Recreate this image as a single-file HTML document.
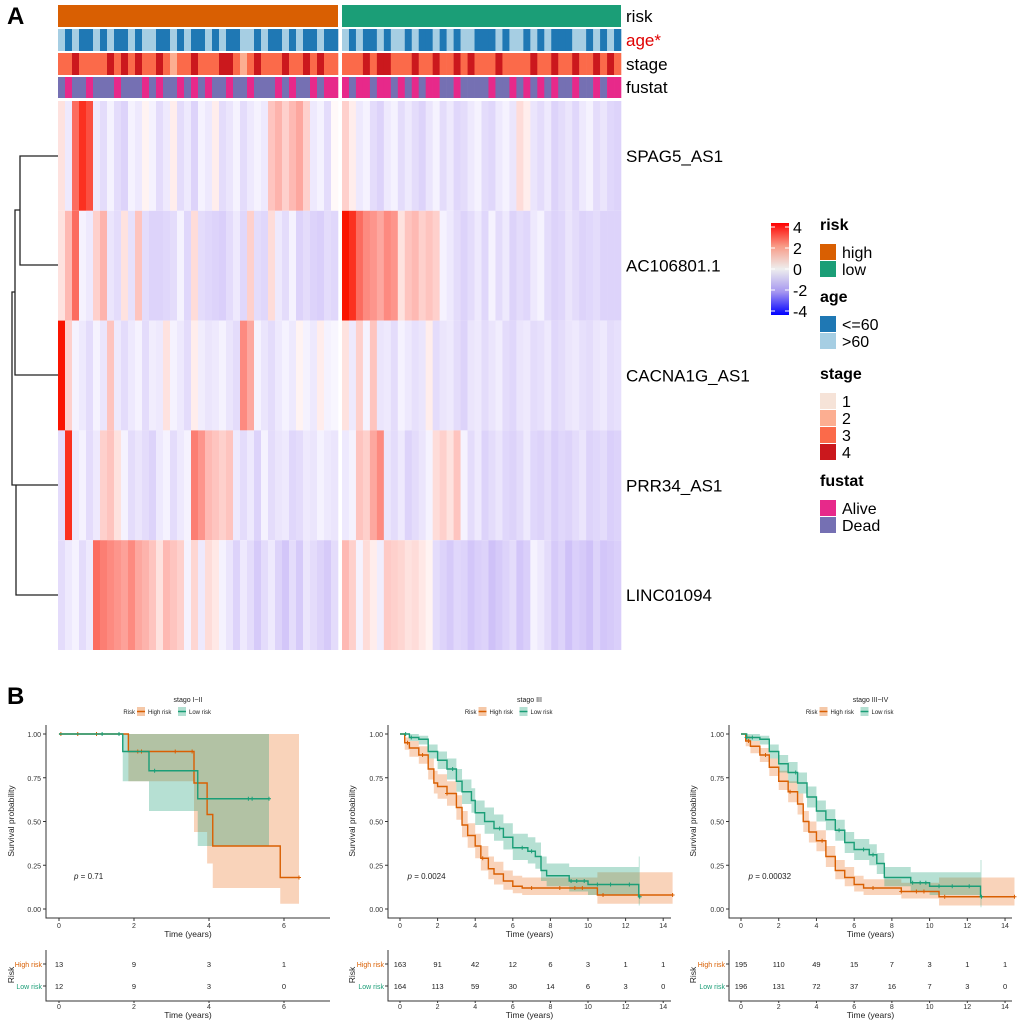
<!DOCTYPE html>
<html><head><meta charset="utf-8"><style>
body{margin:0;background:#fff;}
svg{display:block;font-family:"Liberation Sans",Arial,sans-serif;}
</style></head><body>
<svg id="fig" width="1020" height="1024" viewBox="0 0 1020 1024" xmlns="http://www.w3.org/2000/svg">
<rect width="1020" height="1024" fill="#fff"/>
<text x="7" y="24" font-size="24" font-weight="bold">A</text>
<text x="7" y="704" font-size="24" font-weight="bold">B</text>
<g id="heat"></g>
<g id="dend" stroke="#222" stroke-width="1.3" fill="none">
<path d="M58 156H20V265H58M20 210H15V375H58M15 292H12V485H16M16 485H58M16 485V595H58"/>
</g>
<g id="legend"></g>
<g id="km"></g>
</svg>
<script>
const NS="http://www.w3.org/2000/svg";
function mk(tag,attrs,parent){const e=document.createElementNS(NS,tag);for(const k in attrs)e.setAttribute(k,attrs[k]);parent.appendChild(e);return e;}
// ---------- heatmap data ----------
const genes=["SPAG5_AS1","AC106801.1","CACNA1G_AS1","PRR34_AS1","LINC01094"];
const highSPAG5=[0.5,-0.5,2.5,3.5,3,-0.5,-0.8,-0.3,-0.8,-1,-0.3,-0.5,0.2,-0.3,-0.8,-0.5,0.3,-0.8,-0.5,-1,-0.3,-0.5,0.3,-0.8,-0.6,-0.3,-0.8,-0.5,-0.3,-0.5,1.0,1.3,0.8,1.2,1.5,0.8,-0.5,-0.3,-0.8,0.1];
const highAC=[0.5,1.2,2.5,-0.3,-0.5,0.8,1.3,-0.6,-0.8,0.5,-0.7,1.0,-0.8,-1,-1,-0.9,-0.8,-0.3,-0.9,0.6,-0.8,-0.9,-1,-1.1,-0.8,-0.5,-0.9,0.8,-0.8,-0.9,0.6,-0.5,-0.8,-0.3,-1,-0.8,-1,-1.1,-0.8,-0.9];
const highCAC=[4,0.8,-0.3,-0.5,-0.8,-0.3,-0.6,1.0,-0.5,-0.8,-0.5,-0.3,-0.8,-0.4,-0.5,0.5,-0.3,-0.5,-0.8,0.3,-0.4,-0.6,-0.5,-0.3,-0.6,-0.8,2.0,1.5,-0.3,-0.6,-0.8,-0.5,-0.3,-0.5,0.2,-0.3,-0.5,0.3,-0.3,-0.2];
const highPRR=[-0.8,3.5,-0.5,-0.3,-0.8,-0.5,0.8,1.0,0.5,-0.3,-0.8,-0.6,-0.8,-1,-0.5,-0.3,-0.8,-0.5,-0.3,2.2,1.8,1.2,1.0,0.8,1.0,-0.5,-0.8,-0.5,-1,-0.3,-0.8,-0.6,-0.5,-0.9,-0.8,-0.5,-0.6,-0.3,-0.5,-0.6];
const highLINC=[-0.8,-0.5,-0.3,-0.8,-0.5,2.5,2.2,2.0,1.8,1.6,2.0,1.5,1.3,1.0,0.5,1.2,1.0,0.8,-0.3,0.7,-0.5,0.6,0.4,-0.3,-0.6,-1,-0.5,-0.8,-1.2,-0.8,-0.5,-1,-1.3,-0.8,-1.2,-0.6,-0.8,-1,-1.2,-0.8];
const lowSPAG5=[0.8,0.3,-0.5,-0.3,-0.8,-1,-0.5,-0.3,-0.8,-0.5,-0.8,-1,-0.6,-0.3,-0.8,-0.5,-0.9,-0.8,-0.5,-0.3,-0.8,-0.9,-0.5,-0.3,-0.6,0.6,0.3,-0.6,-0.8,-0.5,-1,-0.8,-0.6,-0.9,-0.5,-0.3,-0.8,-0.6,-0.9,-1];
const lowAC=[4,3.5,2.5,2.0,1.8,1.5,2.0,1.8,0.5,1.0,1.2,0.8,1.0,0.8,-0.3,-0.5,-0.8,-1,-0.8,-0.5,-0.9,-0.3,-0.8,-0.5,-1,-0.8,-0.9,-0.5,-0.3,-0.8,-1,-0.9,-0.6,-0.8,-1,-0.9,-0.8,-1,-1,-1];
const lowCAC=[0.5,-0.5,0.8,-0.3,1.0,-0.6,-0.5,-0.8,-0.3,-0.5,-0.7,-0.6,0.3,-0.8,-0.6,-0.5,-0.8,-1,-0.6,-0.5,-0.8,-0.6,-0.4,-0.8,-0.9,-0.6,-0.5,-0.8,-0.7,-0.5,-0.9,-0.8,-0.6,-0.5,-0.7,-0.8,-0.6,-0.5,-0.8,-0.7];
const lowPRR=[-0.5,-0.3,1.0,0.8,1.5,2.0,-0.6,-0.8,-0.5,-1,-0.8,-0.6,-0.3,0.6,0.8,0.5,1.0,-0.3,-0.8,-0.5,-1,-0.8,-0.6,-0.9,-1,-0.8,-0.5,-0.9,-1,-0.8,-1.1,-0.9,-1,-0.8,-0.6,-1,-0.9,-0.8,-1.1,-1];
const lowLINC=[1.2,0.8,-0.3,0.6,0.3,-0.4,0.9,0.8,0.7,0.5,0.6,0.4,0.2,-0.8,-1,-1.2,-0.9,-1,-1.3,-1.1,-1,-1.4,-1.2,-1,-0.8,-1.3,-1.1,-0.3,-0.5,-0.8,-1.2,-1,-1.4,-1.1,-1.2,-1.4,-1,-1.3,-1.2,-1.1];
const highAge=[0,1,0,1,1,0,1,0,1,1,0,1,0,0,1,1,0,1,0,1,1,0,1,0,1,1,0,0,1,0,1,1,0,1,0,1,1,0,1,1];
const lowAge=[0,1,0,1,1,0,1,0,0,1,0,1,1,0,1,0,1,0,0,1,1,1,0,1,0,0,1,0,1,0,1,1,1,0,0,1,0,1,0,1];
const highStage=[3,3,4,3,3,3,3,4,3,4,3,4,3,3,4,3,2,3,3,4,3,3,3,4,4,3,2,3,4,3,3,3,4,3,3,4,3,4,3,3];
const lowStage=[3,3,3,4,3,4,4,3,3,3,4,3,3,4,3,3,4,3,4,3,3,3,4,3,3,3,3,4,3,3,4,3,3,4,3,3,4,3,4,3];
const highFustat=[0,1,0,0,1,0,0,0,1,0,0,0,1,0,1,0,0,1,0,1,0,1,0,0,1,0,0,1,0,0,0,1,0,1,0,0,1,0,1,1];
const lowFustat=[1,0,1,1,0,1,1,0,1,0,1,0,1,1,0,0,1,0,0,0,0,1,0,0,1,0,1,0,1,0,1,0,0,1,0,0,1,0,1,1];
const highRows=[highSPAG5,highAC,highCAC,highPRR,highLINC];
const lowRows=[lowSPAG5,lowAC,lowCAC,lowPRR,lowLINC];
function zcol(v){v=Math.max(-4,Math.min(4,v));
 if(v>=0){const t=v/4;return `rgb(${Math.round(255-5*t)},${Math.round(255-235*t)},${Math.round(255-255*t)})`;}
 const t=-v/4;
 return `rgb(${Math.max(0,Math.round(255-136*t))},${Math.max(0,Math.round(255-176*t))},${Math.round(255-20*t)})`;}
const heat=document.getElementById('heat');
const groups=[{x0:58,x1:338,rows:highRows,age:highAge,stage:highStage,fu:highFustat,risk:'#d95f02',nm:'high'},
              {x0:342,x1:621,rows:lowRows,age:lowAge,stage:lowStage,fu:lowFustat,risk:'#1b9e77',nm:'low'}];
const stageCol={1:'#fee5d9',2:'#fcae91',3:'#fb6a4a',4:'#cb181d'};
const rowTop=101,rowH=109.8;
groups.forEach(g=>{
 const n=g.rows[0].length,w=(g.x1-g.x0)/n;
 let r=mk('rect',{x:g.x0,y:5,width:g.x1-g.x0,height:22,fill:g.risk},heat);
 
 
 g.age.forEach((a,i)=>{const e=mk('rect',{x:g.x0+i*w,y:29,width:w+0.3,height:22,fill:a?'#1f78b4':'#a6cee3'},heat);
  
  });
 g.stage.forEach((a,i)=>{const e=mk('rect',{x:g.x0+i*w,y:53,width:w+0.3,height:22,fill:stageCol[a]},heat);
  
  });
 g.fu.forEach((a,i)=>{const e=mk('rect',{x:g.x0+i*w,y:77,width:w+0.3,height:21,fill:a?'#e7298a':'#7570b3'},heat);
  
  });
 g.rows.forEach((row,j)=>{row.forEach((v,i)=>{
  const e=mk('rect',{x:g.x0+i*w,y:rowTop+j*rowH,width:w+0.3,height:rowH,fill:zcol(v)},heat);
  
  });});
});
const annLabels=[['risk',22,'#000'],['age*',46,'#e00000'],['stage',70,'#000'],['fustat',93,'#000']];
annLabels.forEach(a=>{const t=mk('text',{x:626,y:a[1],'font-size':17,fill:a[2]},heat);t.textContent=a[0];
 
 });
genes.forEach((gname,j)=>{const t=mk('text',{x:626,y:rowTop+j*rowH+rowH/2+6,'font-size':17},heat);t.textContent=gname;
 
 });
// ---------- legend ----------
const lg=document.getElementById('legend');
const defs=mk('defs',{},lg);
const gr=mk('linearGradient',{id:'zg',x1:0,y1:0,x2:0,y2:1},defs);
[[0,'#ff0000'],[0.25,'#f89a86'],[0.5,'#eeeeee'],[0.75,'#a596f0'],[1,'#0000ff']].forEach(s=>mk('stop',{offset:s[0],'stop-color':s[1]},gr));
let cb=mk('rect',{x:771,y:223,width:18,height:92,fill:'url(#zg)'},lg);


const cbTicks=['4','2','0','-2','-4'];
cbTicks.forEach((t,i)=>{const y=227+i*21;mk('line',{x1:771,x2:775,y1:y,y2:y,stroke:'#fff'},lg);mk('line',{x1:785,x2:789,y1:y,y2:y,stroke:'#fff'},lg);
 const e=mk('text',{x:793,y:y+6,'font-size':16},lg);e.textContent=t;
 
 });
const legBlocks=[["risk",230,[["high","#d95f02"],["low","#1b9e77"]]],["age",302,[["<=60","#1f78b4"],[">60","#a6cee3"]]],
 ["stage",379,[["1","#f6e3d8"],["2","#fcae91"],["3","#fb6a4a"],["4","#cb181d"]]],["fustat",486,[["Alive","#e7298a"],["Dead","#7570b3"]]]];
legBlocks.forEach(b=>{const t=mk('text',{x:820,y:b[1],'font-size':16,'font-weight':'bold'},lg);t.textContent=b[0];
 
 
 b[2].forEach((it,i)=>{const y=b[1]+14+i*17;const r=mk('rect',{x:820,y:y,width:16,height:16,fill:it[1]},lg);
  
  
  const l=mk('text',{x:842,y:y+14,'font-size':16},lg);l.textContent=it[0];
  
  });});
// ---------- KM data ----------
const p1HighT=[0,1.85,3.6,3.95,4.1,5.9], p1HighS=[1,0.9,0.72,0.54,0.36,0.18], p1HighLo=[1,0.73,0.44,0.26,0.12,0.03], p1HighHi=[1,1,1,1,1,1], p1HighEnd=6.4;
const p1LowT=[0,1.7,2.4,3.7], p1LowS=[1,0.9,0.79,0.63], p1LowLo=[1,0.73,0.56,0.36], p1LowHi=[1,1,1,1], p1LowEnd=5.6;
const p1HighCens=[0.05,0.5,1,2.1,2.2,3.1,3.55,6.4], p1LowCens=[1.15,1.6,2.55,5.05,5.15,5.6];
const p2HighT=[0,0.25,0.5,1,1.5,1.8,2,2.5,3,3.3,3.6,4,4.3,4.7,5,5.5,6,6.5,10.5], p2HighS=[1,0.95,0.92,0.88,0.8,0.72,0.7,0.66,0.58,0.48,0.42,0.36,0.29,0.23,0.2,0.16,0.13,0.12,0.08];
const p2HighLo=[1,0.91,0.87,0.83,0.74,0.66,0.63,0.59,0.51,0.41,0.35,0.29,0.22,0.17,0.14,0.11,0.09,0.08,0.03], p2HighHi=[1,0.98,0.96,0.93,0.86,0.79,0.77,0.73,0.65,0.56,0.49,0.43,0.36,0.3,0.27,0.22,0.19,0.18,0.21], p2HighEnd=14.5;
const p2LowT=[0,0.5,1,1.5,2,2.5,3,3.3,3.8,4,4.5,5,5.5,6,6.8,7.2,7.5,7.8,9,10,12.7], p2LowS=[1,0.98,0.97,0.9,0.85,0.8,0.73,0.67,0.62,0.55,0.5,0.46,0.41,0.35,0.33,0.3,0.22,0.19,0.16,0.14,0.07];
const p2LowLo=[1,0.96,0.94,0.86,0.8,0.74,0.67,0.6,0.55,0.48,0.43,0.39,0.34,0.28,0.26,0.23,0.16,0.13,0.1,0.08,0.02], p2LowHi=[1,1,0.99,0.94,0.9,0.86,0.8,0.74,0.69,0.62,0.58,0.54,0.49,0.43,0.41,0.38,0.3,0.26,0.24,0.24,0.3], p2LowEnd=12.75;
const p2HighCens=[0.4,1.2,2.5,4.4,7,8.5,9.3,9.7,10.8,14.5], p2LowCens=[0.3,0.6,2.8,5.3,6.5,7,9.1,9.4,9.8,10.5,11.2,12.2,12.75];
const p3HighT=[0,0.25,0.5,1,1.5,2,2.5,3,3.3,3.6,4,4.5,5,5.5,6,6.5,8.5,10.5], p3HighS=[1,0.96,0.93,0.88,0.81,0.73,0.67,0.6,0.5,0.44,0.39,0.3,0.22,0.18,0.14,0.12,0.1,0.07];
const p3HighLo=[1,0.93,0.89,0.84,0.76,0.68,0.61,0.54,0.44,0.38,0.33,0.24,0.17,0.13,0.1,0.08,0.06,0.02], p3HighHi=[1,0.99,0.96,0.92,0.86,0.79,0.73,0.66,0.56,0.5,0.45,0.36,0.28,0.24,0.19,0.17,0.15,0.18], p3HighEnd=14.5;
const p3LowT=[0,0.3,1,1.5,2,2.5,3,3.5,4,4.5,5,5.5,6,6.8,7.2,7.6,9,10,12.7], p3LowS=[1,0.98,0.97,0.9,0.83,0.78,0.72,0.64,0.56,0.51,0.45,0.38,0.34,0.31,0.26,0.18,0.15,0.13,0.07];
const p3LowLo=[1,0.96,0.94,0.86,0.78,0.72,0.66,0.58,0.5,0.45,0.39,0.32,0.28,0.25,0.2,0.13,0.1,0.08,0.01], p3LowHi=[1,1,0.99,0.94,0.88,0.84,0.78,0.7,0.62,0.57,0.51,0.44,0.4,0.37,0.32,0.24,0.21,0.21,0.28], p3LowEnd=12.75;
const p3HighCens=[0.4,1.3,2.6,4.3,7,8.5,9.3,9.7,10.8,14.5], p3LowCens=[0.3,0.6,2.9,5.2,6.5,7,9.1,9.5,9.8,10.5,11.2,12.1,12.75];
const p1Ticks=[0,2,4,6], p2Ticks=[0,2,4,6,8,10,12,14];
const p1RiskHigh=[13,9,3,1], p1RiskLow=[12,9,3,0];
const p2RiskHigh=[163,91,42,12,6,3,1,1], p2RiskLow=[164,113,59,30,14,6,3,0];
const p3RiskHigh=[195,110,49,15,7,3,1,1], p3RiskLow=[196,131,72,37,16,7,3,0];
const yTicks=[0,0.25,0.5,0.75,1];
const panels=[
 {title:'stago I~II',p:'p = 0.71',ax0:46,ax1:330,x0:59,ppy:37.5,ticks:p1Ticks,ylab:8,
  H:{t:p1HighT,s:p1HighS,lo:p1HighLo,hi:p1HighHi,end:p1HighEnd,c:p1HighCens},L:{t:p1LowT,s:p1LowS,lo:p1LowLo,hi:p1LowHi,end:p1LowEnd,c:p1LowCens},rh:p1RiskHigh,rl:p1RiskLow},
 {title:'stago III',p:'p  = 0.0024',ax0:388,ax1:671,x0:400,ppy:18.8,ticks:p2Ticks,ylab:349,
  H:{t:p2HighT,s:p2HighS,lo:p2HighLo,hi:p2HighHi,end:p2HighEnd,c:p2HighCens},L:{t:p2LowT,s:p2LowS,lo:p2LowLo,hi:p2LowHi,end:p2LowEnd,c:p2LowCens},rh:p2RiskHigh,rl:p2RiskLow},
 {title:'stago III~IV',p:'p = 0.00032',ax0:729,ax1:1012,x0:741,ppy:18.86,ticks:p2Ticks,ylab:690,
  H:{t:p3HighT,s:p3HighS,lo:p3HighLo,hi:p3HighHi,end:p3HighEnd,c:p3HighCens},L:{t:p3LowT,s:p3LowS,lo:p3LowLo,hi:p3LowHi,end:p3LowEnd,c:p3LowCens},rh:p3RiskHigh,rl:p3RiskLow}];
const km=document.getElementById('km');
const Y=v=>909-175*v;
function stepPath(T,V,end,xf){let d=`M${xf(T[0])} ${Y(V[0])}`;for(let i=1;i<T.length;i++){d+=`H${xf(T[i])}V${Y(V[i])}`;}return d+`H${xf(end)}`;}
function band(T,lo,hi,end,xf){let up=`M${xf(T[0])} ${Y(hi[0])}`;for(let i=1;i<T.length;i++)up+=`H${xf(T[i])}V${Y(hi[i])}`;up+=`H${xf(end)}V${Y(lo[lo.length-1])}`;
 for(let i=T.length-1;i>=1;i--)up+=`H${xf(T[i])}V${Y(lo[i-1])}`;return up+`H${xf(T[0])}Z`;}
function survAt(T,V,t){let s=V[0];for(let i=0;i<T.length;i++)if(T[i]<=t)s=V[i];return s;}
panels.forEach((P,k)=>{
 const g=mk('g',{},km);
 
 
 const xf=t=>P.x0+t*P.ppy, cx=(P.ax0+P.ax1)/2;
 let t=mk('text',{x:cx,y:702,'font-size':7,'text-anchor':'middle',fill:'#222'},g);t.textContent=P.title;
 
 
 const lx=cx-48;
 t=mk('text',{x:lx-5,y:714,'font-size':6,fill:'#222','text-anchor':'end'},g);t.textContent='Risk';
 mk('rect',{x:lx-3,y:707,width:8,height:9,fill:'#f5c8a8'},g);mk('line',{x1:lx-3,x2:lx+5,y1:711.5,y2:711.5,stroke:'#d95f02','stroke-width':1.5},g);
 t=mk('text',{x:lx+8,y:714,'font-size':6,fill:'#222'},g);t.textContent='High risk';
 
 
 mk('rect',{x:lx+38,y:707,width:8,height:9,fill:'#b3e0d2'},g);mk('line',{x1:lx+38,x2:lx+46,y1:711.5,y2:711.5,stroke:'#1b9e77','stroke-width':1.5},g);
 t=mk('text',{x:lx+49,y:714,'font-size':6,fill:'#222'},g);t.textContent='Low risk';
 
 
 [[P.H,'#d95f02','rgba(240,150,90,0.42)','high'],[P.L,'#1b9e77','rgba(27,158,119,0.32)','low']].forEach(s=>{
  const b=mk('path',{d:band(s[0].t,s[0].lo,s[0].hi,s[0].end,xf),fill:s[2]},g);
  
  });
 [[P.H,'#d95f02','high'],[P.L,'#1b9e77','low']].forEach(s=>{
  const l=mk('path',{d:stepPath(s[0].t,s[0].s,s[0].end,xf),fill:'none',stroke:s[1],'stroke-width':1.4},g);
  
  
  s[0].c.forEach(c=>{const x=xf(c),y=Y(survAt(s[0].t,s[0].s,c));
   const m=mk('path',{d:`M${x-2} ${y}H${x+2}M${x} ${y-2}V${y+2}`,stroke:s[1],'stroke-width':1},g);
   
   });});
 mk('path',{d:`M${P.ax0} 725V918H${P.ax1}`,fill:'none',stroke:'#333','stroke-width':1},g);
 yTicks.forEach(v=>{mk('line',{x1:P.ax0-3,x2:P.ax0,y1:Y(v),y2:Y(v),stroke:'#333'},g);
  const e=mk('text',{x:P.ax0-5,y:Y(v)+3,'font-size':7,'text-anchor':'end',fill:'#333'},g);e.textContent=v.toFixed(2);
  
  });
 P.ticks.forEach(v=>{mk('line',{x1:xf(v),x2:xf(v),y1:918,y2:921,stroke:'#333'},g);
  let e=mk('text',{x:xf(v),y:928,'font-size':7,'text-anchor':'middle',fill:'#333'},g);e.textContent=v;
  
  
  mk('line',{x1:xf(v),x2:xf(v),y1:1001,y2:1003,stroke:'#333'},g);
  e=mk('text',{x:xf(v),y:1009,'font-size':7,'text-anchor':'middle',fill:'#333'},g);e.textContent=v;
  
  });
 t=mk('text',{x:cx,y:937,'font-size':8.5,'text-anchor':'middle',fill:'#222'},g);t.textContent='Time (years)';
 
 
 t=mk('text',{x:0,y:0,'font-size':8.5,'text-anchor':'middle',fill:'#222',transform:`translate(${P.ylab+6},821) rotate(-90)`},g);t.textContent='Survival probability';
 
 
 t=mk('text',{x:xf(0.4),y:Y(0.19)+3,'font-size':8,fill:'#222'},g);t.innerHTML='<tspan font-style="italic">p</tspan>'+P.p.slice(1);
 
 
 mk('path',{d:`M${P.ax0} 950V1001H${P.ax1}`,fill:'none',stroke:'#333'},g);
 [[P.rh,964,'High risk','#d95f02'],[P.rl,986,'Low risk','#1b9e77']].forEach(r=>{
  mk('line',{x1:P.ax0-3,x2:P.ax0,y1:r[1],y2:r[1],stroke:'#333'},g);
  let e=mk('text',{x:P.ax0-4,y:r[1]+3,'font-size':7,'text-anchor':'end',fill:r[3]},g);e.textContent=r[2];
  
  
  r[0].forEach((n,i)=>{const q=mk('text',{x:xf(P.ticks[i]),y:r[1]+3,'font-size':7.5,'text-anchor':'middle',fill:'#222'},g);q.textContent=n;
   
   });});
 t=mk('text',{x:cx,y:1018,'font-size':8.5,'text-anchor':'middle',fill:'#222'},g);t.textContent='Time (years)';
 
 
 t=mk('text',{x:0,y:0,'font-size':8.5,'text-anchor':'middle',fill:'#222',transform:`translate(${P.ylab+6},975) rotate(-90)`},g);t.textContent='Risk';
 
 
});
</script>
</body></html>
